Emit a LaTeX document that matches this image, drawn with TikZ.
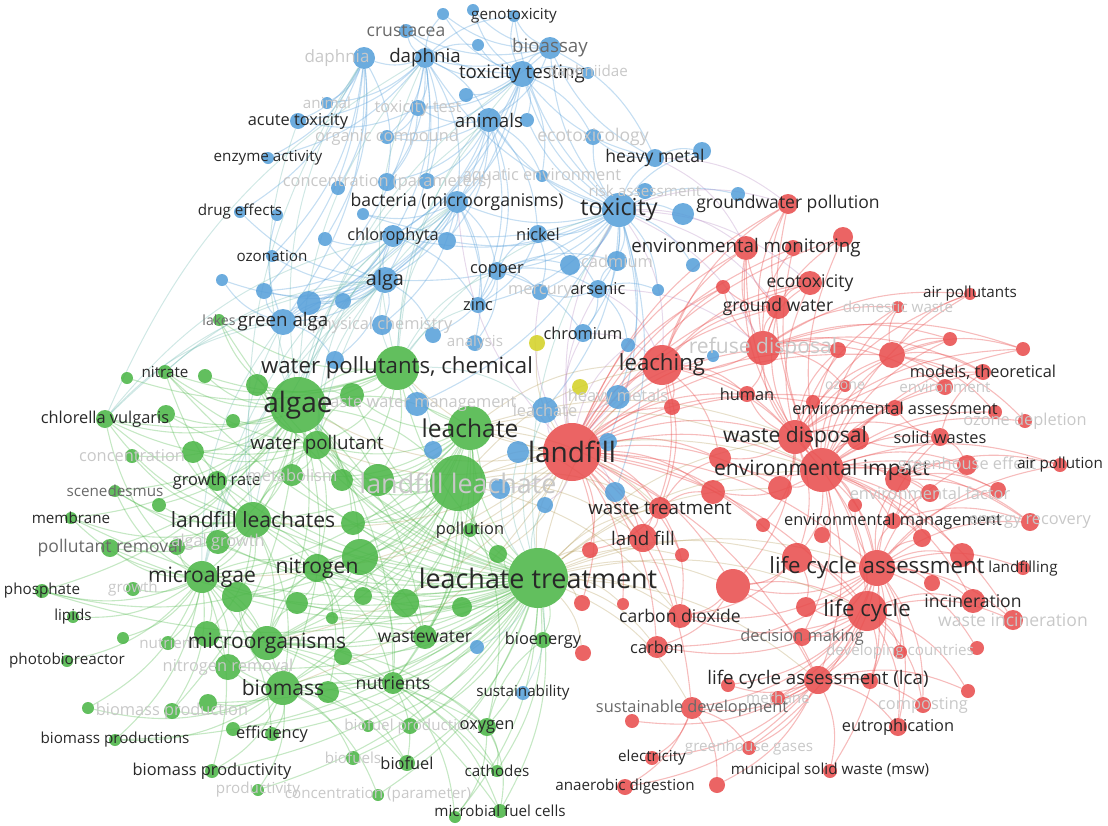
\documentclass[tikz,border=0pt]{standalone}
\usepackage{fontspec}
\setmainfont{Open Sans}
\pgfdeclarelayer{edges}
\pgfsetlayers{edges,main}
\definecolor{vgreen}{RGB}{76,182,72}
\definecolor{vblue}{RGB}{88,160,218}
\definecolor{vred}{RGB}{232,78,78}
\definecolor{vyel}{RGB}{212,210,40}
\definecolor{gbmix}{RGB}{100,180,170}
\definecolor{grmix}{RGB}{175,150,80}
\definecolor{brmix}{RGB}{175,130,190}
\definecolor{tdk}{RGB}{40,40,40}
\definecolor{tmd}{RGB}{105,105,105}
\definecolor{tft}{RGB}{200,200,200}
\tikzset{
  bub/.style={circle, inner sep=0pt, fill opacity=.88},
  lab/.style={inner sep=0pt},
  gedge/.style={draw=vgreen, draw opacity=.32, line width=1.1pt},
  bedge/.style={draw=vblue, draw opacity=.35, line width=1.1pt},
  redge/.style={draw=vred, draw opacity=.38, line width=1.1pt},
  gbedge/.style={draw=gbmix, draw opacity=.3, line width=1pt},
  gredge/.style={draw=grmix, draw opacity=.3, line width=1pt},
  bredge/.style={draw=brmix, draw opacity=.3, line width=1pt}
}
\begin{document}
\begin{tikzpicture}[x=1pt, y=-1pt]
\useasboundingbox (0,0) rectangle (1108,825);

% circles: name/x/y/radius/colour
\foreach \nm/\x/\y/\rad/\col in {
  geno/514/16/6/vblue, b1/443/14/6/vblue, b2/473/10/6/vblue, crus/406/31/7/vblue,
  b3/478/45/6/vblue, daph/425/58/10/vblue, daphf/364/58/11/vblue, bioa/550/48/11/vblue,
  toxt/522/74/13/vblue, daphn/588/73/6/vblue, b4/466/95/7/vblue, anim/327/103/6/vblue,
  toxte/418/108/8/vblue, acut/298/121/8/vblue, anis/489/120/12/vblue, b5/527/120/7/vblue,
  orgc/387/137/7/vblue, ecot/593/137/8/vblue, enzy/268/158/6/vblue, heavy/655/158/9/vblue,
  b6/702/151/9/vblue, conc/387/182/9/vblue, b7/427/181/8/vblue, b8/338/188/7/vblue,
  aqua/542/176/6/vblue, bact/457/202/11/vblue, drug/240/212/6/vblue, b9/277/215/6/vblue,
  b10/363/214/6/vblue, toxy/619/210/17/vblue, risk/645/191/8/vblue, b11/683/214/11/vblue,
  b12/738/194/7/vblue, b13/325/239/7/vblue, chlo/393/236/11/vblue, b14/447/241/9/vblue,
  nick/538/234/9/vblue, b15/693/265/7/vblue, b16/570/265/10/vblue, cadm/617/261/10/vblue,
  ozon/272/256/6/vblue, copp/497/271/9/vblue, alga/385/280/13/vblue, merc/540/292/8/vblue,
  arse/598/289/9/vblue, zinc/478/305/8/vblue, b17/658/290/6/vblue, chro/583/333/9/vblue,
  b18/628/345/7/vblue, b19/713/356/6/vblue, phys/382/325/10/vblue, anal/475/343/8/vblue,
  b20/433/335/8/vblue, galg/283/322/13/vblue, b21/264/291/8/vblue, b22/309/303/12/vblue,
  b23/343/301/8/vblue, b24/335/360/9/vblue, b25/222/280/6/vblue, wwm/417/404/12/vblue,
  leaf/545/410/13/vblue, hmet/618/397/12/vblue, b26/433/450/9/vblue, b27/518/452/11/vblue,
  b28/608/442/9/vblue, b29/500/489/10/vblue, b30/545/505/8/vblue, b31/615/492/10/vblue,
  b32/477/647/7/vblue, sust/523/693/7/vblue,
  y1/537/343/8/vyel, y2/580/387/8/vyel,
  lakes/219/320/6/vgreen, wpc/397/368/22/vgreen, g1/352/395/12/vgreen, g2/257/385/11/vgreen,
  algae/298/405/28/vgreen, leach/470/428/22/vgreen, llea/458/483/28/vgreen, g3/378/480/16/vgreen,
  polln/470/530/7/vgreen, wp/317/445/14/vgreen, nitr/165/372/7/vgreen, g4/127/378/6/vgreen,
  g5/205/376/7/vgreen, chlv/105/419/9/vgreen, g6/166/414/9/vgreen, g7/233/421/7/vgreen,
  concg/132/456/7/vgreen, g8/193/452/11/vgreen, grr/217/481/10/vgreen, meta/292/475/11/vgreen,
  g9/342/480/11/vgreen, scen/115/491/6/vgreen, g10/159/505/7/vgreen, memb/71/518/6/vgreen,
  llts/253/520/18/vgreen, g11/353/523/12/vgreen, polr/110/548/9/vgreen, g12/177/547/8/vgreen,
  algg/218/542/12/vgreen, mica/202/577/16/vgreen, nitg/317/568/14/vgreen, g13/360/557/18/vgreen,
  g14/237/597/15/vgreen, g15/297/603/11/vgreen, g16/363/596/9/vgreen, g17/332/618/6/vgreen,
  phos/42/591/7/vgreen, grow/133/589/7/vgreen, lipi/73/617/6/vgreen, g18/123/638/6/vgreen,
  nutr/168/643/7/vgreen, g19/207/634/13/vgreen, micr/267/643/17/vgreen, phot/67/661/6/vgreen,
  nrem/228/667/13/vgreen, g20/343/656/9/vgreen, biom/283/688/17/vgreen, g21/328/692/11/vgreen,
  bprod/172/711/8/vgreen, g22/88/708/6/vgreen, g23/208/703/9/vgreen, effi/272/734/7/vgreen,
  g24/233/729/7/vgreen, bpros/115/740/6/vgreen, bfp/410/726/8/vgreen, g25/368/726/6/vgreen,
  bfs/353/758/7/vgreen, bpty/212/771/7/vgreen, prod/258/790/6/vgreen, concp/378/795/6/vgreen,
  lt/538/578/30/vgreen, g26/405/603/14/vgreen, g27/462/607/10/vgreen, g28/498/554/9/vgreen,
  wast/425/637/12/vgreen, bioe/543/640/8/vgreen, nuts/393/683/11/vgreen, oxyg/487/727/9/vgreen,
  bfl/407/763/8/vgreen, cath/497/771/6/vgreen, mfc/500/811/7/vgreen, g29/455/817/6/vgreen,
  gwp/788/204/10/vred, envm/746/248/12/vred, r1/793/248/8/vred, r2/843/237/10/vred,
  ecox/810/283/12/vred, r3/723/287/7/vred, gw/778/307/12/vred, airp/970/294/6/vred,
  domw/898/307/6/vred, refd/763/348/17/vred, r4/838/350/8/vred, r5/892/355/13/vred,
  r6/950/339/7/vred, r7/1023/349/7/vred, leaching/662/365/20/vred, r8/672/407/8/vred,
  mod/983/372/8/vred, ozone/845/386/6/vred, envi/945/387/8/vred, human/747/394/8/vred,
  enva/895/408/8/vred, r9/813/402/7/vred, r10/995/412/7/vred, ozd/1025/421/7/vred,
  lf/572/452/29/vred, wd/795/437/17/vred, r11/858/439/11/vred, sw/940/437/9/vred,
  r12/720/458/11/vred, ei/822/470/22/vred, r13/898/479/13/vred, r14/780/488/12/vred,
  r15/713/492/12/vred, ghe/967/465/10/vred, airpn/1060/465/7/vred, envf/930/493/9/vred,
  r16/998/490/8/vred, r17/855/505/7/vred, wt/660/508/11/vred, emgt/893/521/8/vred,
  r18/763/525/7/vred, r19/822/535/8/vred, r20/922/538/9/vred, er/1030/522/9/vred,
  lfl/643/538/14/vred, r21/590/550/8/vred, lcass/877/568/18/vred, r22/797/558/15/vred,
  r23/962/555/12/vred, lfg/1023/568/7/vred, r24/733/586/17/vred, lcyc/867/611/20/vred,
  r25/806/607/10/vred, r26/932/583/8/vred, r28/582/603/8/vred, r29/623/604/6/vred,
  r30/682/555/7/vred, codi/680/616/12/vred, inci/973/601/12/vred, winc/1013/620/10/vred,
  decm/802/637/9/vred, r31/583/653/8/vred, carb/657/647/11/vred, devc/900/652/7/vred,
  r32/977/648/7/vred, lca/818/680/14/vred, r33/870/681/8/vred, r34/728/685/7/vred,
  meth/778/698/7/vred, r35/968/691/7/vred, comp/923/705/8/vred, sdev/692/708/11/vred,
  r36/632/721/7/vred, eutr/898/727/9/vred, ghg/749/748/7/vred, elec/652/758/7/vred,
  msw/830/771/7/vred, anae/625/787/8/vred, r37/717/785/8/vred}
  \node[bub, fill=\col, minimum size={\rad*2pt}] (\nm) at (\x,\y) {};

\begin{pgfonlayer}{edges}
% green cluster
\foreach \hub/\tgts in {
  lt/{algae,leach,llea,llts,mica,nitg,micr,biom,nuts,wast,oxyg,bioe,bfl,cath,mfc,polln,wpc,wp,grr,polr,chlv,nitr,effi,bpty,bfs,bfp,g13,g14,g15,g16,g17,g20,g23,g24,g25,g26,g27,g28,g29,g3,g9,g11,meta,algg,nrem,g19,g21,phos,scen,memb,concp,prod,bpros,g1,g2,g8,lakes},
  algae/{wpc,leach,llea,llts,mica,nitg,micr,biom,wp,chlv,nitr,grr,g2,g1,g5,g6,g7,g8,meta,g9,lakes,scen,polr,concg,algg,g3,g11,g13,wast,nuts,memb,phos,g10,g12,bprod},
  leach/{wpc,llea,llts,wp,g3,nitg,mica,micr,biom,g1,g11,polln,nuts,wast,g13,g26,g9,meta},
  llea/{llts,wp,mica,nitg,micr,biom,g3,g11,g13,g14,g26,polln,nuts,wast,oxyg,g9,g15,g16},
  mica/{phos,lipi,grow,phot,polr,g12,nutr,bprod,bpros,bpty,effi,g18,g22,chlv,scen,memb,g19,nrem,g14,nitg,micr,biom},
  biom/{bprod,bpros,bpty,effi,prod,g24,g23,bfl,bfs,bfp,concp,g22,nuts,oxyg,g25,g19,nrem,g14},
  micr/{nrem,g19,g20,nuts,wast,oxyg,cath,mfc,bfl,g14,g15,nitg},
  nitg/{g14,g15,g16,g17,g13,g20,g21,nuts,wast,phos,nitr,g26},
  llts/{polr,memb,scen,concg,g10,g12,algg,grr,meta,g8,chlv,g6,wp,mica,micr,biom,nitg,g14,g19},
  wpc/{wp,g1,g2,g3,nitr,g4,chlv,lakes,g5,g9},
  wp/{g1,g2,g8,grr,meta,g9,chlv,nitr,g6},
  g13/{g16,g26,wast,nuts,micr},
  nuts/{oxyg,cath,mfc,g29,bfl},
  oxyg/{cath,mfc,g29,bioe}}
  {\foreach \tg in \tgts {\draw[gedge] (\hub) to[bend left=18] (\tg);}}
% blue cluster
\foreach \hub/\tgts in {
  toxy/{toxt,bioa,anis,heavy,b6,b11,b12,risk,cadm,b16,arse,nick,merc,chro,b15,ecot,aqua,bact,daph,b5,geno,b17,copp,zinc,hmet,b28,b31,wwm,leaf,b14,b10,chlo,alga},
  toxt/{bioa,geno,b2,b1,daph,crus,b3,anis,b4,daphn,b5,ecot,aqua,bact,toxte,orgc,alga,chlo,galg},
  bioa/{geno,b2,b1,crus,daph,toxte,anis,heavy},
  daph/{crus,daphf,b1,b3,anis,toxte,acut,anim,orgc,b7,conc,bact,chlo,alga,galg,enzy,geno},
  daphf/{acut,anim,conc,drug,enzy,ozon,b13,b8,galg,b21},
  toxte/{acut,orgc,conc},
  anis/{bact,chlo,nick,copp,alga,b14,aqua,b7,conc,zinc,toxte,orgc},
  bact/{chlo,alga,copp,zinc,b10,b14,galg,b22,anal,phys},
  alga/{galg,b21,b22,b23,b24,b25,phys,b20,chlo,b13,ozon,drug},
  chlo/{galg,b13,b21,b22,b23,zinc},
  galg/{b21,b22,b23,b24,b25,b9},
  copp/{zinc,merc,arse,chro,nick,cadm,b16,anal,b20},
  nick/{zinc,arse,merc,b16},
  heavy/{toxt,bioa,b6,ecot},
  arse/{chro,merc,cadm,b17,b18}}
  {\foreach \tg in \tgts {\draw[bedge] (\hub) to[bend left=18] (\tg);}}
% red cluster
\foreach \hub/\tgts in {
  lf/{leaching,wt,lfl,wd,ei,refd,gw,ecox,envm,gwp,r8,r12,r15,r14,human,codi,carb,r21,r28,r29,r30,lcass,lcyc,lca,r24,r22,sdev,r3,r1,r2,r9,r4,r5,r18,enva},
  ei/{wd,lcass,lcyc,lca,r13,r14,r15,r12,r11,sw,enva,envf,emgt,ghe,airpn,r16,er,r17,r19,r20,r23,r22,inci,winc,decm,r4,r5,r9,mod,r10,ozd,ozone,envi,r6,r7,airp,domw,r2,r1,gwp,envm},
  lcass/{lcyc,lca,r22,r23,r24,r25,r26,lfg,inci,winc,decm,devc,r32,r33,comp,eutr,msw,ghg,meth,codi,carb,r19,r20,emgt,r13,r17,r16,er,airpn,ghe,sw},
  lcyc/{lca,r25,inci,winc,decm,eutr,comp,r35,r33,r34,meth,sdev,codi,carb,devc},
  lca/{eutr,msw,ghg,meth,sdev,r34,r37,elec,anae,r36,comp,r35},
  wd/{refd,gw,ecox,envm,human,r9,r11,r4,r5,sw,enva,r12,r14,r18,mod,r6,r7,domw,airp,lcass,lcyc,r22,r24},
  refd/{leaching,gw,ecox,envm,gwp,r1,r2,r3,human,r4,r5,ozone,domw,r6,r7,mod,airp,envi},
  leaching/{gw,ecox,envm,gwp,r8,r3,wt,lfl,wd,ei,r12,human},
  gw/{ecox,envm,gwp,r3},
  wt/{lfl,r15,r12,codi,r21},
  r13/{sw,envf,ghe,airpn,r16,er,r20,emgt},
  r22/{lcyc,r24,r25,codi},
  r24/{codi,carb,lca,lcyc},
  emgt/{r20,envf,er},
  sw/{enva,r11,ghe,mod},
  sdev/{r37,ghg,elec,anae},
  r5/{mod,r6,r7,airp,domw,envi,ozd,r10}}
  {\foreach \tg in \tgts {\draw[redge] (\hub) to[bend left=18] (\tg);}}
% between clusters
\foreach \hub/\tgts in {
  lt/{lf,leaching,wt,lfl,codi,carb,r21,r28,r29,r30,r31,lcass,lcyc,r24,ei,wd,sdev,lca,r22,r14},
  leach/{lf,leaching,wt,lfl,ei,wd},
  llea/{lf,leaching,wt,lfl,codi,ei},
  lf/{algae,wpc,llts,mica,biom,nitg,micr,wp,y1,y2,g28,polln}}
  {\foreach \tg in \tgts {\draw[gredge] (\hub) to[bend left=18] (\tg);}}
\foreach \hub/\tgts in {
  wpc/{toxy,bact,anis,copp,alga,leaf,b26,zinc,daph,toxt},
  algae/{bact,chlo,daph,toxt,anis,galg,alga,daphf,acut},
  chlv/{alga,galg,daph,chlo},
  nitr/{alga,galg},
  mica/{galg,alga,chlo,bact},
  llts/{alga,galg,daphf},
  wp/{alga,chlo,bact},
  lt/{b27,b29,b30,b32,sust,leaf,toxy}}
  {\foreach \tg in \tgts {\draw[gbedge] (\hub) to[bend left=18] (\tg);}}
\foreach \hub/\tgts in {
  toxy/{gwp,envm,ecox,gw,refd,leaching},
  heavy/{gwp,envm},
  arse/{leaching,refd},
  chro/{leaching},
  lf/{toxy,bact,b27,b28,b29,b30,b31,leaf,hmet,chro,arse,merc,b18,b19}}
  {\foreach \tg in \tgts {\draw[bredge] (\hub) to[bend left=18] (\tg);}}
\end{pgfonlayer}

% labels: name/size/shade/text
\foreach \nm/\sz/\shd/\lbl in {
  geno/13/tdk/genotoxicity, crus/15/tmd/crustacea, daph/16/tdk/daphnia, bioa/16/tmd/bioassay,
  toxt/16/tdk/toxicity testing, daphn/13/tft/daphniidae, anim/13/tft/animal,
  toxte/14/tft/toxicity test, acut/14/tdk/acute toxicity, anis/16/tdk/animals,
  orgc/14/tft/organic compound, ecot/15/tft/ecotoxicology, enzy/13/tdk/enzyme activity,
  heavy/15/tdk/heavy metal, conc/14/tft/concentration (parameters), aqua/14/tft/aquatic environment,
  bact/15/tdk/bacteria (microorganisms), drug/13/tdk/drug effects, toxy/20/tdk/toxicity,
  risk/13/tft/risk assessment, chlo/14/tdk/chlorophyta, nick/14/tdk/nickel, cadm/14/tft/cadmium,
  ozon/13/tdk/ozonation, copp/14/tdk/copper, alga/17/tdk/alga, merc/14/tft/mercury,
  arse/14/tdk/arsenic, zinc/14/tdk/zinc, chro/14/tdk/chromium, phys/14/tft/physical chemistry,
  anal/13/tft/analysis, galg/16/tdk/green alga, wwm/14/tft/waste water management,
  leaf/14/tft/leachate, hmet/14/tft/heavy metals, sust/13/tdk/sustainability,
  lakes/12/tmd/lakes, wpc/19/tdk/{water pollutants, chemical}, algae/24/tdk/algae,
  leach/21/tdk/leachate, llea/23/tft/landfill leachate, polln/14/tdk/pollution,
  wp/16/tdk/water pollutant, nitr/13/tdk/nitrate, chlv/14/tdk/chlorella vulgaris,
  concg/14/tft/concentration, grr/14/tdk/growth rate, meta/14/tft/metabolism,
  scen/13/tmd/scenedesmus, memb/13/tdk/membrane, llts/18/tdk/landfill leachates,
  polr/15/tmd/pollutant removal, algg/14/tft/algal growth, mica/18/tdk/microalgae,
  nitg/18/tdk/nitrogen, phos/13/tdk/phosphate, grow/13/tft/growth, lipi/13/tdk/lipids,
  nutr/13/tft/nutrient, micr/18/tdk/microorganisms, phot/13/tdk/photobioreactor,
  nrem/14/tft/nitrogen removal, biom/18/tdk/biomass, bprod/14/tft/biomass production,
  effi/14/tdk/efficiency, bpros/13/tdk/biomass productions, bfp/13/tft/biofuel production,
  bfs/13/tft/biofuels, bpty/14/tdk/biomass productivity, prod/13/tft/productivity,
  concp/13/tft/concentration (parameter), lt/23/tdk/leachate treatment, wast/15/tdk/wastewater,
  bioe/14/tdk/bioenergy, nuts/15/tdk/nutrients, oxyg/14/tdk/oxygen, bfl/14/tdk/biofuel,
  cath/13/tdk/cathodes, mfc/13/tdk/microbial fuel cells,
  gwp/15/tdk/groundwater pollution, envm/16/tdk/environmental monitoring, ecox/15/tdk/ecotoxicity,
  gw/15/tdk/ground water, airp/13/tdk/air pollutants, domw/13/tft/domestic waste,
  refd/18/tft/refuse disposal, leaching/19/tdk/leaching, mod/14/tdk/{models, theoretical},
  ozone/12/tft/ozone, envi/13/tft/environment, human/14/tdk/human,
  enva/14/tdk/environmental assessment, ozd/14/tft/ozone depletion, lf/24/tdk/landfill,
  wd/18/tdk/waste disposal, sw/14/tdk/solid wastes, ei/18/tdk/environmental impact,
  ghe/14/tft/greenhouse effect, airpn/13/tdk/air pollution, envf/14/tft/environmental factor,
  wt/16/tdk/waste treatment, emgt/14/tdk/environmental management, er/14/tft/energy recovery,
  lfl/16/tdk/land fill, lcass/19/tdk/life cycle assessment, lfg/13/tdk/landfilling,
  lcyc/19/tdk/life cycle, codi/15/tdk/carbon dioxide, inci/15/tdk/incineration,
  winc/15/tft/waste incineration, decm/14/tmd/decision making, carb/14/tdk/carbon,
  devc/13/tft/developing countries, lca/16/tdk/life cycle assessment (lca), meth/13/tft/methane,
  comp/14/tft/composting, sdev/14/tmd/sustainable development, eutr/14/tdk/eutrophication,
  ghg/13/tft/greenhouse gases, elec/13/tdk/electricity, msw/13/tdk/municipal solid waste (msw),
  anae/13/tdk/anaerobic digestion}
  {\pgfmathsetmacro\fs{\sz*1.17}
   \node[lab, font=\fontsize{\fs}{\fs}\selectfont, text=\shd] (\nm-t) at (\nm) {\lbl};}
\node[lab, font=\fontsize{17}{17}\selectfont, text=tft, xshift=-27pt] (daphf-t) at (daphf) {daphnia};
\end{tikzpicture}
\end{document}
